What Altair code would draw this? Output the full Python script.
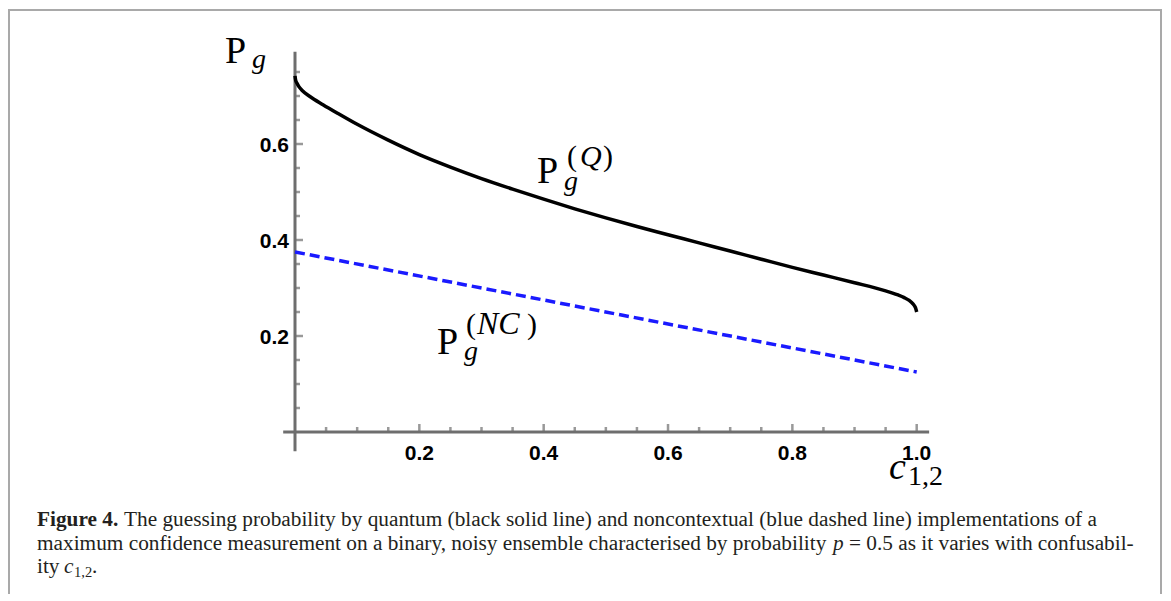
import altair as alt
import pandas as pd

# ---------------- data ----------------
c_q = [0.0, 0.001, 0.003, 0.006, 0.012, 0.024, 0.045, 0.07, 0.10, 0.15, 0.20, 0.25,
       0.30, 0.35, 0.40, 0.45, 0.50, 0.55, 0.60, 0.65, 0.70, 0.75, 0.80, 0.85,
       0.90, 0.95, 0.96, 0.97, 0.98, 0.988, 0.994, 0.998, 1.0]
p_q = [0.742, 0.733, 0.727, 0.720, 0.711, 0.699, 0.682, 0.663, 0.641, 0.608, 0.578, 0.552,
       0.528, 0.506, 0.485, 0.465, 0.446, 0.428, 0.411, 0.394, 0.377, 0.360, 0.343, 0.327,
       0.311, 0.294, 0.290, 0.2855, 0.280, 0.274, 0.267, 0.259, 0.250]
c_nc = [0.0, 1.0]
p_nc = [0.375, 0.125]

x_major = [0.2, 0.4, 0.6, 0.8, 1.0]
x_minor = [0.05, 0.1, 0.15, 0.25, 0.3, 0.35, 0.45, 0.5, 0.55, 0.65, 0.7, 0.75,
           0.85, 0.9, 0.95]
y_major = [0.2, 0.4, 0.6]
y_minor = [0.05, 0.1, 0.15, 0.25, 0.3, 0.35, 0.45, 0.5, 0.55, 0.65, 0.7, 0.75]
x_axis_span = [-0.019, 1.02]
y_axis_span = [-0.04, 0.792]

caption1_bold = "Figure 4."
caption1 = ("The guessing probability by quantum (black solid line) and noncontextual "
            "(blue dashed line) implementations of a")
caption2a = "maximum confidence measurement on a binary, noisy ensemble characterised by probability"
caption2b = "p"
caption2c = "= 0.5 as it varies with confusabil-"

# ---------------- layout ----------------
W, H = 1154, 585
X_RANGE = [287, 908.7]
Y_RANGE = [423, 39]
xs = alt.Scale(domain=[0, 1], range=X_RANGE)
ys = alt.Scale(domain=[0, 0.8], range=Y_RANGE)
AX = "#6e6e6e"
SERIF = "Liberation Serif"
SANS = "Liberation Sans"
CAP = 21.3
CAPCOL = "#231f20"

q_df = pd.DataFrame({"c": c_q, "p": p_q})
nc_df = pd.DataFrame({"c": c_nc, "p": p_nc})


def X(field):
    return alt.X(field, scale=xs, axis=None)


def Y(field):
    return alt.Y(field, scale=ys, axis=None)


q_line = alt.Chart(q_df).mark_line(color="black", strokeWidth=3.5, interpolate="monotone").encode(
    x=X("c:Q"), y=Y("p:Q"))
nc_line = alt.Chart(nc_df).mark_line(color="#1a1aff", strokeWidth=3.5, strokeDash=[10, 5]).encode(
    x=X("c:Q"), y=Y("p:Q"))

xa = alt.Chart(pd.DataFrame({"x": [x_axis_span[0]], "x2": [x_axis_span[1]], "y": [0.0]})).mark_rule(
    color=AX, strokeWidth=3).encode(x=X("x:Q"), x2="x2:Q", y=Y("y:Q"))
ya = alt.Chart(pd.DataFrame({"y": [y_axis_span[0]], "y2": [y_axis_span[1]], "x": [0.0]})).mark_rule(
    color=AX, strokeWidth=3).encode(y=Y("y:Q"), y2="y2:Q", x=X("x:Q"))


def xticks(vals, size):
    df = pd.DataFrame({"c": vals, "y": [0.0] * len(vals)})
    return alt.Chart(df).mark_tick(orient="vertical", size=size, thickness=2.5,
                                   yOffset=-size / 2, color=AX).encode(x=X("c:Q"), y=Y("y:Q"))


def yticks(vals, size):
    df = pd.DataFrame({"p": vals, "x": [0.0] * len(vals)})
    return alt.Chart(df).mark_tick(orient="horizontal", size=size, thickness=2.5,
                                   xOffset=size / 2, color=AX).encode(y=Y("p:Q"), x=X("x:Q"))


x_lab = alt.Chart(pd.DataFrame({"c": x_major, "y": [0.0] * len(x_major)})).mark_text(
    font=SANS, fontWeight="bold", fontSize=21, baseline="top", align="center", dy=11,
    color="black").encode(x=X("c:Q"), y=Y("y:Q"), text=alt.Text("c:Q", format=".1f"))
y_lab = alt.Chart(pd.DataFrame({"p": y_major, "x": [0.0] * len(y_major)})).mark_text(
    font=SANS, fontWeight="bold", fontSize=21, baseline="middle", align="right", dx=-6, dy=2,
    color="black").encode(y=Y("p:Q"), x=X("x:Q"), text=alt.Text("p:Q", format=".1f"))


def txt(s, x, y, size, family=SERIF, style="normal", weight="normal", align="left", color="black"):
    return alt.Chart(alt.Data(values=[{}])).mark_text(
        fontSize=size, font=family, fontStyle=style, fontWeight=weight,
        align=align, baseline="alphabetic", color=color).encode(
        x=alt.value(x), y=alt.value(y), text=alt.value(s))


def border(x, y, x2=None, y2=None):
    enc = {"x": alt.value(x), "y": alt.value(y)}
    if x2 is not None:
        enc["x2"] = alt.value(x2)
    if y2 is not None:
        enc["y2"] = alt.value(y2)
    return alt.Chart(alt.Data(values=[{}])).mark_rule(color="#a9a9a9", strokeWidth=2).encode(**enc)


labels = [
    # y title P_g
    txt("P", 217, 54, 38),
    txt("g", 244, 59, 28, style="italic"),
    # P_g^(Q)
    txt("P", 529, 174, 38),
    txt("g", 556, 181, 28, style="italic"),
    txt("(", 559, 157, 30),
    txt("Q", 572, 157, 30, style="italic"),
    txt(")", 595, 157, 30),
    # P_g^(NC)
    txt("P", 429, 345, 38),
    txt("g", 456, 351, 28, style="italic"),
    txt("(", 458, 325, 30),
    txt("NC", 469, 325, 32, style="italic"),
    txt(")", 519, 325, 30),
    # x title c_{1,2}
    txt("c", 881, 470, 38, style="italic"),
    txt("1,2", 900, 476, 28),
    # caption
    txt(caption1_bold, 29, 517, CAP, weight="bold", color=CAPCOL),
    txt(caption1, 116, 517, CAP, color=CAPCOL),
    txt(caption2a, 29, 540.5, CAP, color=CAPCOL),
    txt(caption2b, 825, 540.5, CAP, style="italic", color=CAPCOL),
    txt(caption2c, 841, 540.5, CAP, color=CAPCOL),
    txt("ity", 29, 564, CAP, color=CAPCOL),
    txt("c", 56, 564, CAP, style="italic", color=CAPCOL),
    txt("1,2", 66, 568, 14.5, color=CAPCOL),
    txt(".", 84, 564, CAP, color=CAPCOL),
]

borders = [
    border(1, 1, x2=W - 1),
    border(1, 0, y2=H),
    border(W - 1, 0, y2=H),
]

chart = alt.layer(
    *borders, xa, ya,
    xticks(x_minor, 5), xticks(x_major, 8),
    yticks(y_minor, 5), yticks(y_major, 8),
    x_lab, y_lab,
    nc_line, q_line,
    *labels,
).properties(width=W, height=H, padding=0).configure_view(stroke=None)

chart.save("out.html", embed_options={"renderer": "svg", "actions": False})
